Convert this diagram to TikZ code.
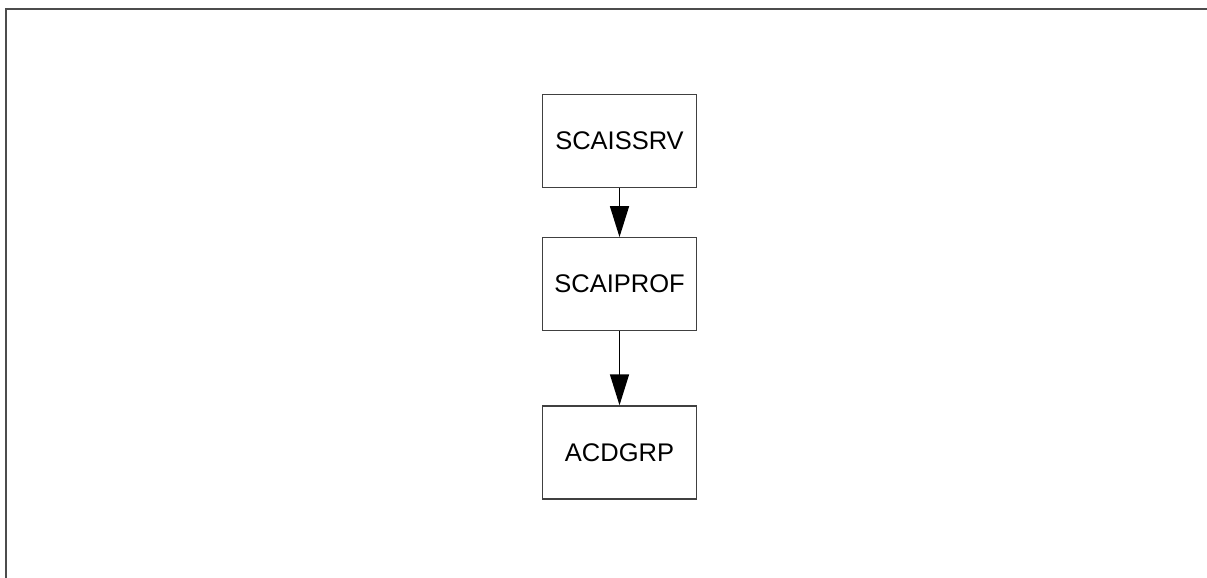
\documentclass[tikz,border=0pt]{standalone}
\usepackage{fontspec}
\setmainfont{Liberation Sans}
\usetikzlibrary{arrows.meta, positioning}
\tikzset{
  module/.style={
    rectangle, draw=black!75, line width=1.2pt,
    fill=white, minimum width=154pt, minimum height=93pt,
    align=center, font=\fontsize{25.5}{30}\selectfont
  },
  link/.style={-{Triangle[length=31pt,width=19pt]}, line width=1.5pt, draw=black},
  frameline/.style={line width=2pt, draw=black!70}
}
\begin{document}
\begin{tikzpicture}[x=1pt, y=-1pt]
  \useasboundingbox (0,0) rectangle (1207,578);
  \draw[frameline] (6,578) -- (6,9) -- (1207,9);

  \node[module] (srv) at (619.5,141) {SCAISSRV};
  \node[module, below=49pt of srv] (prof) {SCAIPROF};
  \node[module, below=74pt of prof] (acd) {ACDGRP};

  \draw[link] (srv) -- (prof);
  \draw[link] (prof) -- (acd);
\end{tikzpicture}
\end{document}
